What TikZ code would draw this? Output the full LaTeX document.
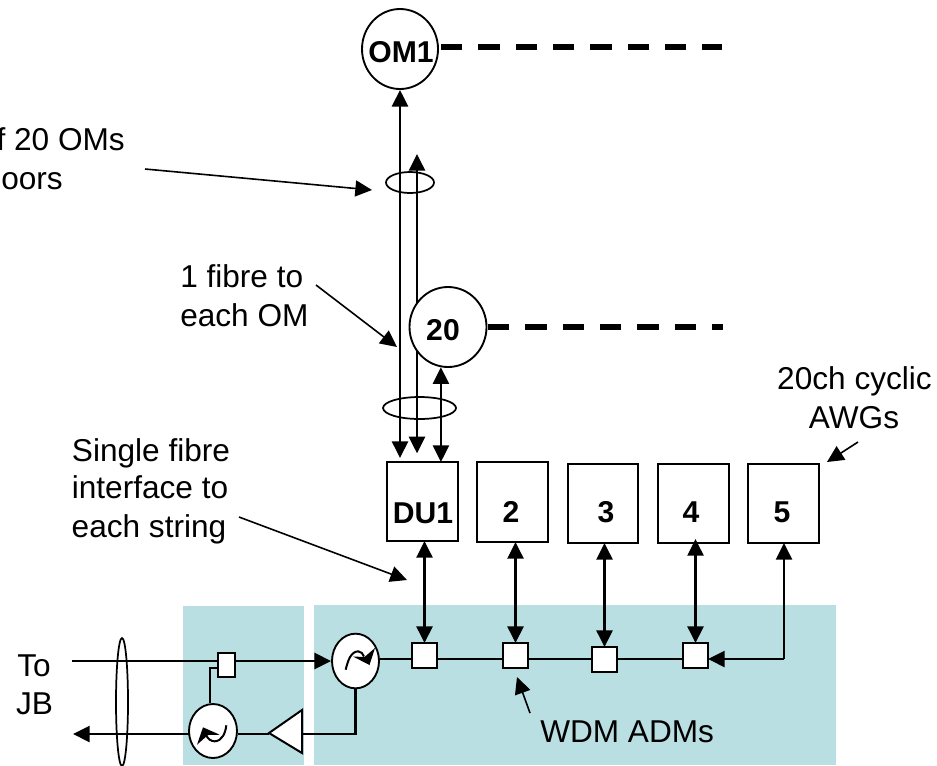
\documentclass[tikz,border=0pt]{standalone}
\usepackage{fontspec}
\setmainfont{Liberation Sans}
\usetikzlibrary{arrows.meta,shapes.geometric}
\definecolor{panelteal}{RGB}{186,223,226}
\pgfdeclarelayer{panel}
\pgfdeclarelayer{wires}
\pgfsetlayers{panel,wires,main}
\tikzset{
  x=0.75pt,y=-0.75pt,
  lbl/.style={anchor=base,inner sep=0pt,font=\fontsize{23.7}{28}\selectfont},
  lbll/.style={lbl,anchor=base west},
  lblr/.style={lbl,anchor=base east},
  bold/.style={anchor=base,inner sep=0pt,font=\fontsize{22.6}{27}\selectfont\bfseries},
  ring/.style={ellipse,draw=black,line width=1.4pt,fill=white,inner sep=0pt,minimum width=#1*0.75pt},
  band/.style={ellipse,draw=black,line width=1.3pt,inner sep=0pt,minimum width=#1*0.75pt},
  awg/.style={rectangle,draw=black,line width=1.6pt,fill=white,inner sep=0pt,outer sep=0pt},
  adm/.style={rectangle,draw=black,line width=1.8pt,fill=white,inner sep=0pt,outer sep=0pt,minimum width=18.75pt,minimum height=18.75pt},
  wire/.style={line width=1.9pt,draw=black},
  tip/.style={wire,-{Triangle[length=12.5pt,width=12pt]}},
  both/.style={wire,{Triangle[length=12.5pt,width=12pt]}-{Triangle[length=12.5pt,width=12pt]}},
  note/.style={line width=1.2pt,draw=black,-{Triangle[length=12.5pt,width=12pt]}},
  dashline/.style={line width=3.8pt,draw=black,dash pattern=on 16pt off 12pt},
}
\begin{document}
\begin{tikzpicture}
\useasboundingbox (0,0) rectangle (937,765);
\clip (0,0) rectangle (937,765);

% panels
\begin{pgfonlayer}{panel}
\fill[panelteal] (183,606) rectangle (304,765);
\fill[panelteal] (314,605) rectangle (836,765);
\end{pgfonlayer}

% optical modules
\node[ring=76,minimum height=60pt] (om1) at (400,49) {};
\node[bold] (om1t) at (401,62) {OM1};
\node[ring=77,minimum height=60pt] (n20) at (448,327) {};
\node[bold] (n20t) at (443,340) {20};

% bands
\node[band=48,minimum height=15.75pt] (bandA) at (410,182.5) {};
\node[band=73,minimum height=16.5pt] (bandB) at (419.5,408) {};
\node[band=12,minimum height=96pt] (bandC) at (122,702) {};

% AWG boxes
\node[awg,minimum width=53.25pt,minimum height=59.25pt] (du1) at (422.5,501.5) {};
\node[awg,minimum width=53.25pt,minimum height=60pt] (b2) at (512.5,502) {};
\node[awg,minimum width=52.5pt,minimum height=59.25pt] (b3) at (603,503.5) {};
\node[awg,minimum width=53.25pt,minimum height=59.25pt] (b4) at (693.5,503.5) {};
\node[awg,minimum width=53.25pt,minimum height=59.25pt] (b5) at (783.5,503.5) {};
\node[bold] (du1t) at (423,523) {DU1};
\node[bold] (b2t) at (511,522) {2};
\node[bold] (b3t) at (606,522) {3};
\node[bold] (b4t) at (691,522) {4};
\node[bold] (b5t) at (782,522) {5};

% add-drop muxes
\node[adm] (a1) at (424.5,655.5) {};
\node[adm] (a2) at (515.5,655.5) {};
\node[adm] (a3) at (604.5,659.5) {};
\node[adm] (a4) at (695.5,655.5) {};
\node[adm,minimum width=12.75pt,minimum height=18pt] (s1) at (226.5,665) {};

% circulators
\node[ring=47,minimum height=41pt] (c1) at (355.5,661) {};
\node[ring=48,minimum height=40.5pt] (c2) at (213,731) {};
\draw[line width=1.5pt] (345.7,669.7) .. controls (348,660) and (351,651.5) .. (358.3,651.3) .. controls (361,651.3) and (363,654) .. (364,656.5);
\fill (375,648) -- (369.5,665) -- (353,656.5) -- (364.5,657) -- cycle;
\draw[line width=1.5pt] (226.3,725.3) .. controls (225.5,733) and (222,741) .. (214.7,741.3) .. controls (211,741.3) and (208,739) .. (206.3,735.5);
\fill (197,744.7) -- (203,727.3) -- (219.7,734.7) -- (208,735) -- cycle;

% amplifier
\coordinate (ampT) at (269,733);
\coordinate (ampB) at (302,734);
\coordinate (ampU) at (302,710);
\coordinate (ampD) at (302,753);
\draw[line width=1.5pt,fill=white] (ampT) -- (ampU) -- (ampD) -- cycle;

% wires under the components
\coordinate (inS) at (72,661);
\coordinate (outT) at (73,734);
\coordinate (outS) at (189,734);
\coordinate (busS) at (379,659);
\coordinate (busE) at (784,659);
\coordinate (brk) at (210,668);
\coordinate (f2top) at (417,154);
\begin{pgfonlayer}{wires}
\draw[tip] (inS) -- (c1.west);
\draw[tip] (outS) -- (outT);
\draw[wire] (busS) -- (a4.west |- busS);
\draw[wire] (s1.west |- brk) -- (brk) -- (brk |- c2.north);
\draw[wire] (c2.east |- ampB) -- (ampT |- ampB);
\draw[wire] (ampB) -| (c1.south);
\draw[both,shorten >=3pt] (om1.south) -- (om1.south |- du1.north);
\draw[both,shorten >=6.5pt] (f2top) -- (f2top |- du1.north);
\end{pgfonlayer}
\draw[both] (n20.260) -- (n20.260 |- du1.north);

% strings to muxes
\draw[both] (a1.north) -- (a1.north |- du1.south);
\draw[both] (a2.north) -- (a2.north |- b2.south);
\draw[both] (a3.north) -- (a3.north |- b3.south);
\draw[both,shorten >=-3pt] (a4.north) -- (a4.north |- b4.south);
\draw[tip] (busE) -- (a4.east |- busE);
\draw[tip] (busE) -- (busE |- b5.south);

% dashed runs
\draw[dashline] (om1.east |- 0,47) ++(2,0) -- (722,47);
\draw[dashline] (488,327) -- (723,327);

% annotations
\coordinate (tA) at (145,169);
\coordinate (hA) at (372,190);
\coordinate (tB) at (316,285);
\coordinate (hB) at (397,347);
\coordinate (tC) at (239,517);
\coordinate (hC) at (407,580);
\coordinate (tD) at (858,442);
\coordinate (hD) at (827,462);
\coordinate (tE) at (530,713);
\coordinate (hE) at (517,677);
\draw[note] (tA) -- (hA);
\draw[note] (tB) -- (hB);
\draw[note] (tC) -- (hC);
\draw[note] (tD) -- (hD);
\draw[note] (tE) -- (hE);

% labels
\node[lblr] (l1a) at (125,150) {f 20 OMs};
\node[lblr] (l1b) at (63,189) {oors};
\node[lbll] (l2a) at (180,287) {1 fibre to};
\node[lbll] (l2b) at (180,326) {each OM};
\node[lbl] (l3a) at (151,461) {Single fibre};
\node[lbl] (l3b) at (150,498) {interface to};
\node[lbl] (l3c) at (149,537) {each string};
\node[lbl] (l4a) at (854.5,389) {20ch cyclic};
\node[lbl] (l4b) at (854,428) {AWGs};
\node[lbll] (l5) at (540,742) {WDM ADMs};
\node[lbl] (l6a) at (34,676) {To};
\node[lbl] (l6b) at (34.5,714) {JB};
\end{tikzpicture}
\end{document}
